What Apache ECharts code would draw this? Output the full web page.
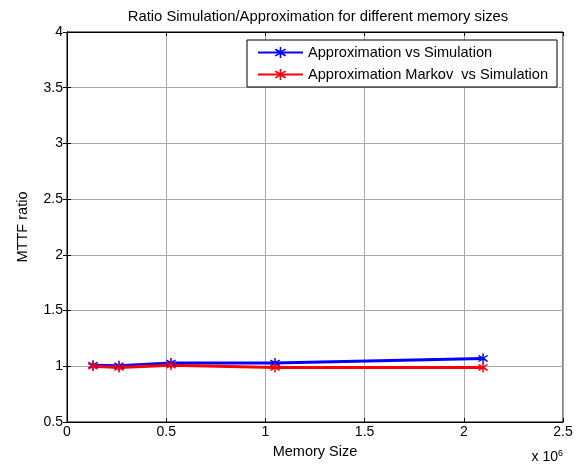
<!DOCTYPE html>
<html>
<head>
<meta charset="utf-8">
<script src="https://cdn.jsdelivr.net/npm/echarts@6/dist/echarts.min.js"></script>
<style>
  html, body { margin: 0; padding: 0; background: #fff; }
  #chart { width: 584px; height: 470px; }
</style>
</head>
<body>
<div id="chart"></div>
<script>
// memory sizes (bytes)
const memorySizes = [131072, 262144, 524288, 1048576, 2097152];
// MTTF ratios
const approxVsSim = [1.01, 1.005, 1.03, 1.03, 1.07];
const markovVsSim = [1.0, 0.99, 1.01, 0.99, 0.99];
const seriesNames = ['Approximation vs Simulation', 'Approximation Markov  vs Simulation'];

const FONT = '"Liberation Sans", Arial, sans-serif';
// asterisk-like marker
const star = 'path://M-1.3,-10 L1.3,-10 L1.3,-3 L7.5,-7 L8.8,-4.8 L2.6,-1 L8.8,4.8 L7.5,7 L1.3,3 L1.3,10 L-1.3,10 L-1.3,3 L-7.5,7 L-8.8,4.8 L-2.6,1 L-8.8,-4.8 L-7.5,-7 L-1.3,-3 Z';

const chart = echarts.init(document.getElementById('chart'));

const pairs = (ys) => memorySizes.map((x, i) => [x, ys[i]]);

const gridLine = { show: true, lineStyle: { color: '#aaa', type: 'solid', width: 1 } };
const tick = { show: true, inside: true, length: 4, lineStyle: { color: '#000' } };

chart.setOption({
    animation: false,
    backgroundColor: '#fff',
    title: {
        text: 'Ratio Simulation/Approximation for different memory sizes',
        left: 313,
        textAlign: 'center',
        top: 4,
        textStyle: { fontFamily: FONT, fontSize: 14.8, fontWeight: 'normal', color: '#000' }
    },
    grid: { left: 67, right: 21, top: 32, bottom: 48, show: true, borderColor: '#000', borderWidth: 1 },
    legend: {
        orient: 'vertical',
        left: 257,
        top: 45,
        z: 20,
        itemWidth: 45,
        itemHeight: 14,
        itemGap: 7,
        padding: 0,
        textStyle: { fontFamily: FONT, fontSize: 14.6, color: '#000' },
        data: seriesNames
    },
    xAxis: [{
        type: 'value',
        min: 0,
        max: 2500000,
        interval: 500000,
        position: 'bottom',
        name: 'Memory Size',
        nameLocation: 'middle',
        nameGap: 22,
        nameTextStyle: { fontFamily: FONT, fontSize: 14.5, color: '#000' },
        axisLine: { show: true, lineStyle: { color: '#000' } },
        axisTick: tick,
        axisLabel: { fontFamily: FONT, fontSize: 14, color: '#000', margin: 3, formatter: v => String(v / 1e6) },
        splitLine: gridLine
    }, {
        type: 'value',
        min: 0,
        max: 2500000,
        interval: 500000,
        position: 'top',
        axisLine: { show: true, lineStyle: { color: '#000' } },
        axisTick: tick,
        axisLabel: { show: false },
        splitLine: { show: false }
    }],
    yAxis: [{
        type: 'value',
        min: 0.5,
        max: 4,
        interval: 0.5,
        position: 'left',
        name: 'MTTF ratio',
        nameLocation: 'middle',
        nameGap: 37,
        nameTextStyle: { fontFamily: FONT, fontSize: 14.5, color: '#000' },
        axisLine: { show: true, lineStyle: { color: '#000' } },
        axisTick: tick,
        axisLabel: { fontFamily: FONT, fontSize: 14, color: '#000', margin: 4 },
        splitLine: gridLine
    }, {
        type: 'value',
        min: 0.5,
        max: 4,
        interval: 0.5,
        position: 'right',
        axisLine: { show: true, lineStyle: { color: '#000' } },
        axisTick: tick,
        axisLabel: { show: false },
        splitLine: { show: false }
    }],
    graphic: [{
        type: 'rect',
        shape: { x: 247, y: 40, width: 310, height: 47 },
        style: { fill: '#fff', stroke: '#000', lineWidth: 1 },
        z: 10
    }, {
        type: 'text',
        right: 21,
        top: 449,
        style: {
            text: 'x 10{sup|6}',
            font: '14px ' + FONT,
            fill: '#000',
            rich: { sup: { fontSize: 9, verticalAlign: 'top', padding: [0, 0, 8, 0], fontFamily: FONT } }
        }
    }],
    series: [{
        name: seriesNames[0],
        type: 'line',
        data: pairs(approxVsSim),
        symbol: star,
        symbolSize: 10,
        showAllSymbol: true,
        color: '#0000ff',
        lineStyle: { width: 3, color: '#0000ff' },
        itemStyle: { color: '#0000ff' }
    }, {
        name: seriesNames[1],
        type: 'line',
        data: pairs(markovVsSim),
        symbol: star,
        symbolSize: 10,
        showAllSymbol: true,
        color: '#ff0000',
        lineStyle: { width: 3, color: '#ff0000' },
        itemStyle: { color: '#ff0000' }
    }]
});
</script>
</body>
</html>
